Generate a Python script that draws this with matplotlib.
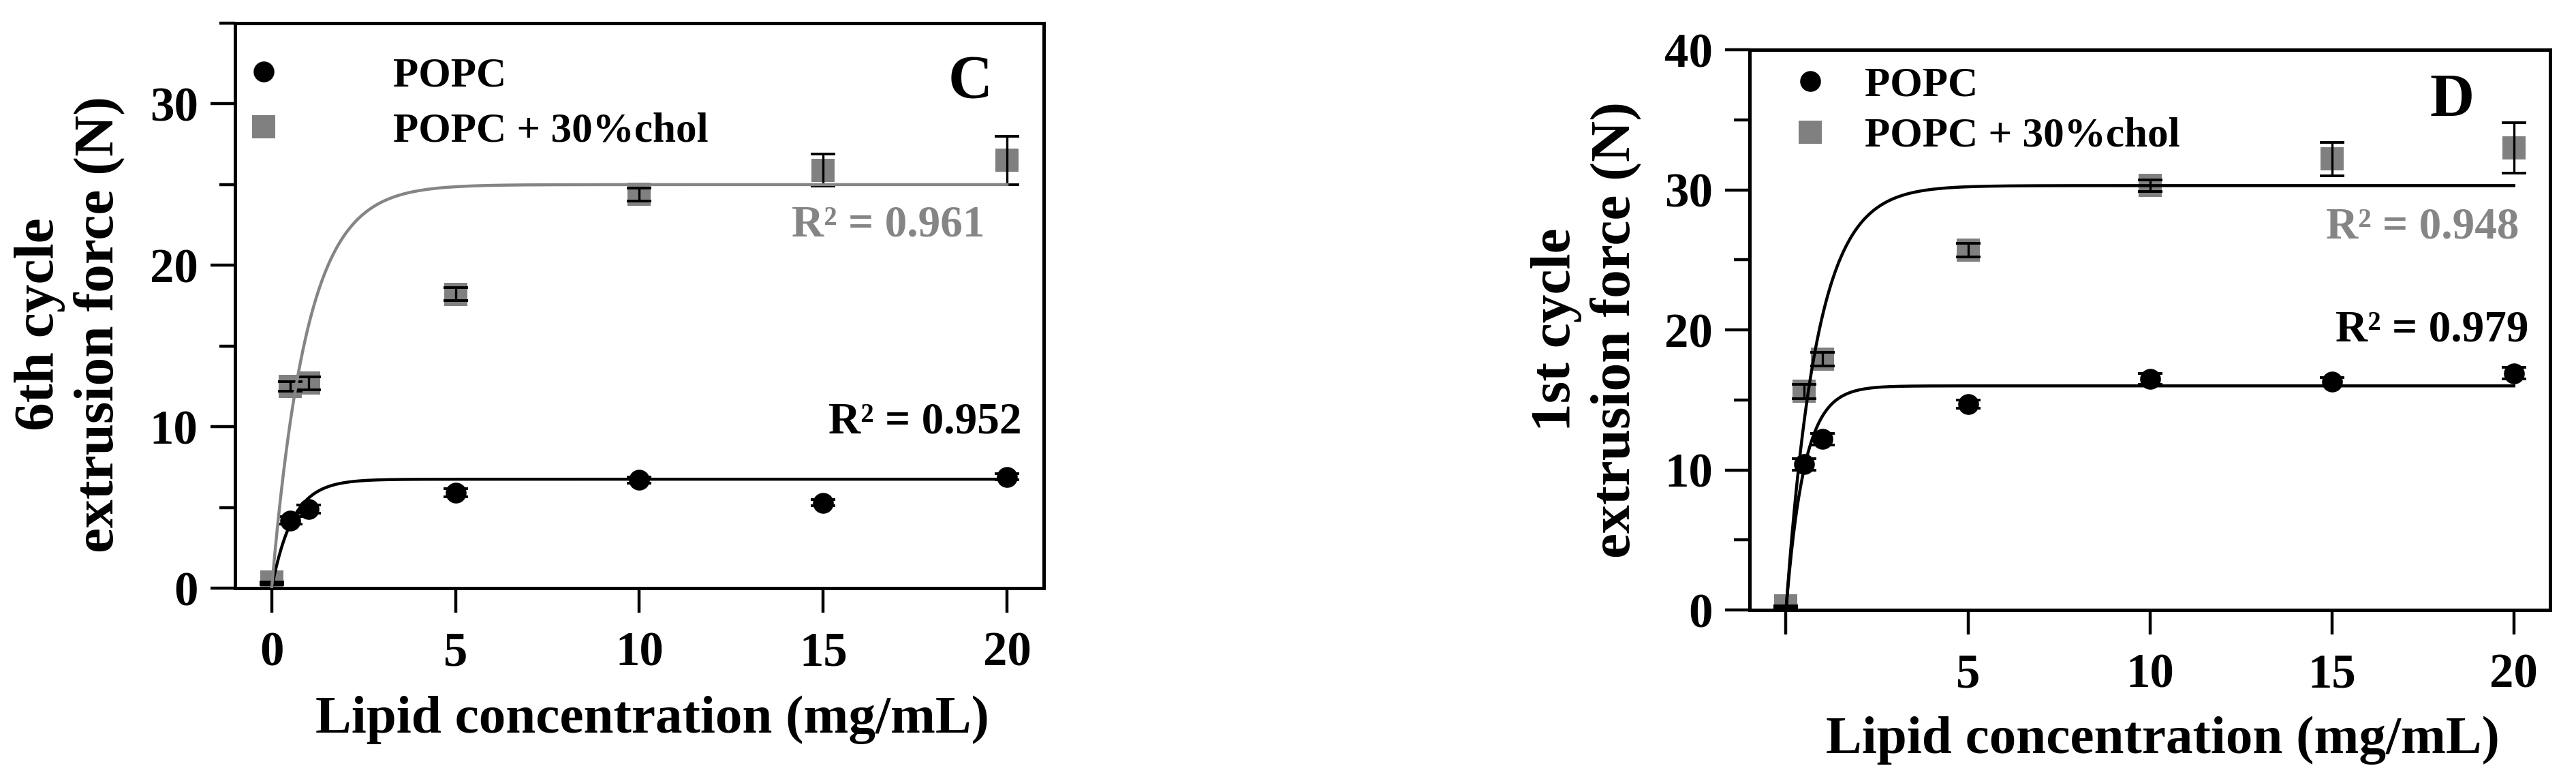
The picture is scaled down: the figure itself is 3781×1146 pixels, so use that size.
import numpy as np
import matplotlib
matplotlib.use("Agg")
import matplotlib.pyplot as plt
from matplotlib.ticker import MultipleLocator, FixedLocator

plt.rcParams['font.family'] = ['Liberation Serif', 'DejaVu Serif']
plt.rcParams['font.weight'] = 'bold'

# lipid concentration (mg/mL)
conc = [0, 0.5, 1, 5, 10, 15, 20]

# panel C - 6th cycle
c_popc = [0.2, 4.2, 4.9, 5.9, 6.7, 5.3, 6.9]
c_popc_err = [0, 0.25, 0.25, 0.25, 0.2, 0.2, 0.2]
c_chol = [0.4, 12.5, 12.7, 18.2, 24.4, 25.9, 26.5]
c_chol_err = [0, 0.3, 0.4, 0.4, 0.4, 1.0, 1.5]
c_r2 = ["0.952", "0.961"]
# fit (one phase association): plateau, rate
c_popc_fit = (6.75, 1.75)
c_chol_fit = (25.0, 1.05)

# panel D - 1st cycle
d_popc = [0.2, 10.4, 12.2, 14.7, 16.5, 16.3, 16.9]
d_popc_err = [0, 0.4, 0.4, 0.3, 0.4, 0.3, 0.4]
d_chol = [0.3, 15.6, 17.9, 25.7, 30.3, 32.2, 33.0]
d_chol_err = [0, 0.5, 0.5, 0.5, 0.4, 1.2, 1.8]
d_r2 = ["0.979", "0.948"]
d_popc_fit = (16.0, 2.0)
d_chol_fit = (30.3, 1.18)

labels = ["POPC", "POPC + 30%chol"]

GRAY = "#858585"

W, H = 3781, 1146
fig = plt.figure(figsize=(W / 200, H / 200), dpi=200)
axC = fig.add_axes([0.0912, 0.2469, 0.3140, 0.7234])
axD = fig.add_axes([0.6792, 0.2190, 0.3108, 0.7173])


def panel(ax, popc, popc_err, chol, chol_err, fit1, fit2, fit2_col, ytop):
    xf = np.linspace(0, 20, 400)
    ax.plot(xf, fit1[0] * (1 - np.exp(-fit1[1] * xf)), color="black", lw=1.6, zorder=4)
    ax.plot(xf, fit2[0] * (1 - np.exp(-fit2[1] * xf)), color=fit2_col, lw=1.6, zorder=4)
    h1, = ax.plot(conc, popc, "o", color="black", ms=11, mew=0, zorder=2)
    h2, = ax.plot(conc, chol, "s", color="#808080", ms=12, mew=0, zorder=2.5)
    ax.errorbar(conc, popc, yerr=popc_err, fmt="none", ecolor="black",
                elinewidth=1.2, capsize=6.5, capthick=1.4, zorder=3)
    ax.errorbar(conc, chol, yerr=chol_err, fmt="none", ecolor="black",
                elinewidth=1.2, capsize=6.5, capthick=1.4, zorder=3)

    ax.set_xlim(-1, 21)
    ax.set_ylim(0, ytop)
    ax.set_xticks([0, 5, 10, 15, 20])
    ax.yaxis.set_major_locator(MultipleLocator(10))
    ax.yaxis.set_minor_locator(FixedLocator([5, 15, 25, 35]))
    for s in ax.spines.values():
        s.set_linewidth(1.8)
    ax.tick_params(which="both", direction="out", width=1.6, labelsize=25.5)
    ax.tick_params(axis="x", length=13, pad=10)
    ax.tick_params(axis="y", which="major", length=13, pad=6.5)
    ax.tick_params(axis="y", which="minor", length=8.4)
    for t in ax.get_xticklabels() + ax.get_yticklabels():
        t.set_fontweight("bold")
    ax.set_xlabel("Lipid concentration (mg/mL)", fontsize=28.5, fontweight="bold", va="baseline")
    ax.xaxis.set_label_coords(0.516, -0.2557)
    return h1, h2


h1, h2 = panel(axC, c_popc, c_popc_err, c_chol, c_chol_err, c_popc_fit, c_chol_fit, GRAY, 35)
axC.set_ylabel("6th cycle\nextrusion force (N)", fontsize=30, fontweight="bold")
axC.yaxis.set_label_coords(-0.136, 0.467)
axC.legend([h1, h2], labels, loc="upper left", bbox_to_anchor=(0.010, 0.94),
           frameon=False, borderpad=0, borderaxespad=0, handlelength=1,
           handletextpad=2.6, labelspacing=0.4, numpoints=1,
           prop={"size": 22, "weight": "bold"})
axC.text(19.0, 31.3, "C", fontsize=32.5, fontweight="bold", ha="center", va="center")
axC.text(20.4, 10.3, "R² = " + c_r2[0], fontsize=23.5, fontweight="bold",
         ha="right", va="center", color="black")
axC.text(19.4, 22.5, "R² = " + c_r2[1], fontsize=23.5, fontweight="bold",
         ha="right", va="center", color=GRAY)

h1, h2 = panel(axD, d_popc, d_popc_err, d_chol, d_chol_err, d_popc_fit, d_chol_fit, "black", 40)
axD.set_xticklabels(["", "5", "10", "15", "20"])
axD.set_ylabel("1st cycle\nextrusion force (N)", fontsize=30, fontweight="bold")
axD.yaxis.set_label_coords(-0.135, 0.5)
axD.legend([h1, h2], labels, loc="upper left", bbox_to_anchor=(0.050, 0.97),
           frameon=False, borderpad=0, borderaxespad=0, handlelength=1,
           handletextpad=0.8, labelspacing=0.3, numpoints=1,
           prop={"size": 22, "weight": "bold"})
axD.text(18.3, 36.3, "D", fontsize=32.5, fontweight="bold", ha="center", va="center")
axD.text(20.4, 20.0, "R² = " + d_r2[0], fontsize=23.5, fontweight="bold",
         ha="right", va="center", color="black")
axD.text(20.15, 27.3, "R² = " + d_r2[1], fontsize=23.5, fontweight="bold",
         ha="right", va="center", color=GRAY)

fig.savefig("out.png", dpi=200)
